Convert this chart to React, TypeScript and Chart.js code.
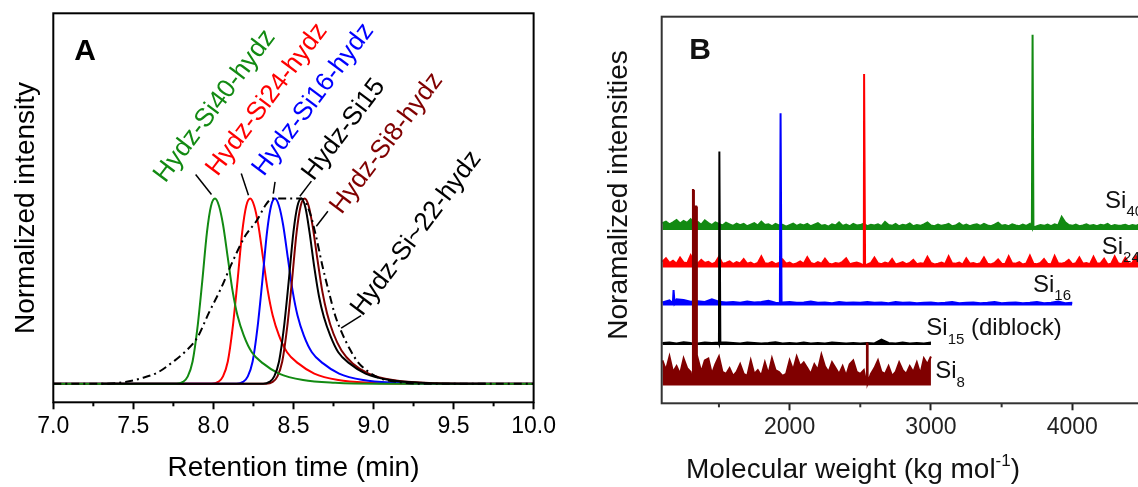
import React, { useEffect, useRef } from "react";
import { Chart, registerables } from "chart.js";
Chart.register(...registerables);

const FONT = "'Liberation Sans', Arial, sans-serif";

// ---------- Panel A : GPC traces ----------
const timeTicks = [7.0, 7.5, 8.0, 8.5, 9.0, 9.5, 10.0];
const timeMinorTicks = [7.25, 7.75, 8.25, 8.75, 9.25, 9.75];

const si40Time = [7.0, 7.77, 7.81, 7.84, 7.87, 7.9, 7.93, 7.96, 7.985, 8.01, 8.035, 8.06, 8.09, 8.12, 8.15, 8.19, 8.24, 8.31, 8.41, 8.56, 8.76, 9.01, 10.0];
const si40Int = [0, 0, 0.01, 0.04, 0.12, 0.3, 0.55, 0.82, 0.96, 1.0, 0.96, 0.86, 0.68, 0.5, 0.37, 0.26, 0.17, 0.11, 0.055, 0.02, 0.005, 0, 0];
const si24Time = [7.0, 7.99, 8.03, 8.06, 8.09, 8.12, 8.15, 8.18, 8.205, 8.23, 8.255, 8.28, 8.31, 8.34, 8.37, 8.41, 8.46, 8.53, 8.63, 8.78, 8.98, 9.23, 10.0];
const si24Int = [0, 0, 0.01, 0.04, 0.12, 0.3, 0.55, 0.82, 0.96, 1.0, 0.96, 0.86, 0.68, 0.5, 0.37, 0.26, 0.17, 0.11, 0.055, 0.02, 0.005, 0, 0];
const si16Time = [7.0, 8.145, 8.185, 8.215, 8.245, 8.275, 8.305, 8.335, 8.36, 8.385, 8.41, 8.435, 8.465, 8.495, 8.525, 8.565, 8.615, 8.685, 8.785, 8.935, 9.135, 9.385, 10.0];
const si16Int = [0, 0, 0.01, 0.04, 0.12, 0.3, 0.55, 0.82, 0.96, 1.0, 0.96, 0.86, 0.68, 0.5, 0.37, 0.26, 0.17, 0.11, 0.055, 0.02, 0.005, 0, 0];
const si15Time = [7.3, 8.31, 8.35, 8.38, 8.41, 8.44, 8.47, 8.5, 8.525, 8.55, 8.575, 8.6, 8.63, 8.66, 8.69, 8.73, 8.78, 8.85, 8.95, 9.1, 9.3, 9.55, 9.7];
const si15Int = [0, 0, 0.01, 0.04, 0.12, 0.3, 0.55, 0.82, 0.96, 1.0, 0.95, 0.82, 0.63, 0.47, 0.36, 0.26, 0.17, 0.11, 0.055, 0.02, 0.005, 0, 0];
const si8Time = [7.0, 8.33, 8.37, 8.4, 8.43, 8.46, 8.49, 8.52, 8.545, 8.57, 8.595, 8.62, 8.65, 8.68, 8.71, 8.75, 8.8, 8.87, 8.97, 9.12, 9.32, 9.57, 10.0];
const si8Int = [0, 0, 0.01, 0.04, 0.12, 0.3, 0.55, 0.82, 0.96, 1.0, 0.96, 0.85, 0.67, 0.5, 0.38, 0.27, 0.18, 0.11, 0.055, 0.02, 0.005, 0, 0];
const si22Time = [7.0, 7.3, 7.45, 7.55, 7.65, 7.75, 7.82, 7.9, 7.97, 8.05, 8.12, 8.2, 8.27, 8.33, 8.37, 8.55, 8.6, 8.64, 8.68, 8.72, 8.76, 8.8, 8.85, 8.9, 8.96, 9.04, 9.15, 9.3, 10.0];
const si22Int = [0, 0, 0.01, 0.03, 0.06, 0.12, 0.17, 0.25, 0.38, 0.52, 0.66, 0.8, 0.88, 0.97, 1.0, 1.0, 0.93, 0.8, 0.64, 0.5, 0.37, 0.28, 0.19, 0.12, 0.07, 0.03, 0.01, 0, 0];

const GREEN = "#128a12";
const RED = "#ff0000";
const BLUE = "#0000ff";
const BLACK = "#000000";
const WINE = "#800000";

// rotated labels of panel A: text, colour, anchor (time, intensity)
const labelsA = [
  { text: "Hydz-Si40-hydz", color: GREEN, t: 7.7, v: 1.08 },
  { text: "Hydz-Si24-hydz", color: RED, t: 8.025, v: 1.115 },
  { text: "Hydz-Si16-hydz", color: BLUE, t: 8.315, v: 1.115 },
  { text: "Hydz-Si15", color: BLACK, t: 8.625, v: 1.09 },
  { text: "Hydz-Si8-hydz", color: WINE, t: 8.8, v: 0.91 },
  { text: "Hydz-Si~22-hydz", color: BLACK, t: 8.93, v: 0.36 },
];
const leadersA = [
  [7.889, 1.13, 7.988, 1.022],
  [8.174, 1.135, 8.219, 1.018],
  [8.385, 1.09, 8.374, 1.027],
  [8.612, 1.094, 8.54, 1.012],
  [8.715, 0.931, 8.643, 0.85],
  [8.798, 0.301, 8.922, 0.368],
];

// ---------- Panel B : mass spectra ----------
const mwTicks = [2000, 3000, 4000];
const mwMinorTicks = [1500, 2500, 3500, 4500];
const noiseStart = 1100;

// noise heights above each trace baseline (step 25 from 1100)
const si40Noise = [
  1.8, 2.2, 1.5, 2.0, 2.6, 1.7, 2.4, 1.9, 2.8, 1.6,
  2.1, 1.4, 2.5, 1.8, 1.3, 2.0, 1.6, 1.2, 1.9, 1.5,
  1.1, 1.7, 1.3, 1.6, 1.0, 1.4, 1.8, 1.2, 2.2, 1.3,
  1.5, 1.0, 1.6, 1.2, 1.4, 0.9, 1.3, 1.7, 1.1, 1.5,
  1.2, 1.6, 1.0, 1.4, 1.8, 1.1, 1.3, 0.9, 1.5, 1.2,
  2.0, 1.1, 1.4, 1.0, 1.6, 1.2, 1.3, 1.7, 1.0, 1.4,
  1.2, 1.5, 1.0, 2.1, 1.3, 1.1, 1.6, 1.0, 1.4, 1.2,
  1.7, 1.0, 1.3, 1.1, 1.5, 2.0, 1.2, 1.0, 1.4, 1.1,
  1.3, 1.6, 1.0, 1.2, 1.8, 1.1, 1.4, 1.0, 1.3, 1.5,
  1.1, 1.6, 1.2, 1.0, 1.4, 1.9, 1.1, 1.3, 1.0, 1.5,
  1.2, 1.0, 1.4, 1.1, 1.6, 1.2, 1.0, 1.3, 1.1, 1.4,
  1.0, 1.5, 1.2, 3.4, 2.0, 1.3, 1.1, 1.4, 1.0, 1.2,
  1.5, 1.1, 1.3, 1.0, 1.4, 1.2, 1.6, 1.0, 1.3, 1.1,
  1.2, 1.4, 1.0, 1.3, 1.1, 1.5, 1.2, 1.0, 1.3, 1.1,
  1.2,
];
const si24Noise = [
  1.5, 2.4, 1.2, 1.8, 1.0, 2.6, 1.3, 1.1, 3.2, 1.4,
  1.0, 2.0, 1.2, 1.5, 0.9, 1.3, 2.8, 1.0, 1.2, 1.6,
  0.9, 1.4, 1.1, 2.2, 1.0, 1.3, 0.8, 1.2, 2.9, 1.1,
  1.0, 1.5, 0.9, 1.2, 2.1, 1.0, 1.3, 0.8, 1.1, 1.6,
  1.0, 2.7, 1.2, 0.9, 1.4, 1.0, 2.3, 1.1, 0.8, 1.2,
  1.0, 1.5, 2.4, 0.9, 1.1, 1.3, 1.0, 2.0, 0.8, 1.2,
  2.6, 1.1, 0.9, 1.3, 1.0, 2.2, 0.8, 1.1, 1.4, 0.9,
  1.2, 2.0, 0.9, 1.1, 1.0, 2.8, 1.2, 0.8, 1.0, 1.3,
  0.9, 2.9, 1.1, 1.0, 1.3, 0.8, 2.4, 1.0, 1.2, 0.9,
  1.1, 2.6, 1.0, 0.8, 1.2, 2.1, 1.0, 0.9, 2.9, 1.1,
  1.0, 1.4, 0.8, 1.1, 3.1, 1.0, 0.9, 1.2, 2.2, 1.0,
  0.8, 3.0, 1.1, 1.0, 1.3, 2.0, 0.9, 1.1, 2.6, 1.0,
  1.2, 0.9, 2.8, 1.0, 1.1, 2.3, 0.8, 1.0, 2.9, 1.1,
  0.9, 2.5, 1.0, 1.2, 3.0, 0.9, 1.1, 2.2, 1.0, 1.3,
  1.0,
];
// step 50 from 1100
const si16Noise = [
  0.8, 1.3, 1.6, 1.4, 1.0, 1.1, 0.9, 1.6, 1.0, 0.8,
  0.9, 0.7, 1.0, 0.8, 0.9, 1.2, 0.7, 0.8, 0.9, 0.7,
  0.8, 1.0, 0.7, 0.8, 0.6, 0.9, 0.7, 0.8, 0.7, 0.9,
  0.7, 0.8, 0.6, 0.9, 0.7, 0.8, 0.6, 0.7, 0.8, 0.6,
  0.7, 0.9, 0.6, 0.7, 0.8, 0.6, 0.7, 0.9, 0.6, 0.7,
  0.8, 0.6, 0.7, 0.9, 0.6, 0.7, 1.0, 0.6, 0.7,
];
const si15Noise = [
  0.5, 0.6, 0.4, 0.7, 0.5, 0.4, 0.6, 0.5, 0.4, 0.6,
  0.5, 0.4, 0.6, 0.5, 0.4, 0.5, 0.7, 0.4, 0.5, 0.4,
  0.6, 0.4, 0.5, 0.4, 0.6, 0.5, 0.4, 0.5, 0.4, 0.5,
  0.4, 1.4, 0.5, 0.4, 0.6, 0.4, 0.5, 0.4, 0.6,
];
// step 25 from 1100
const si8Noise = [
  6.5, 4.0, 7.5, 3.5, 5.0, 3.0, 7.0, 4.5, 3.5, 6.5,
  7.0, 3.5, 6.5, 7.0, 3.0, 5.5, 7.5, 3.5, 3.0, 4.5,
  2.5, 3.5, 5.5, 3.0, 2.5, 6.5, 3.0, 4.0, 2.5, 6.0,
  3.0, 7.0, 4.0, 3.5, 2.5, 3.0, 6.5, 4.0, 7.5, 5.0,
  6.0, 4.5, 3.0, 5.5, 4.0, 8.0, 5.0, 3.5, 6.0, 4.5,
  3.0, 5.0, 2.5, 5.5, 6.5, 3.5, 3.0, 4.0, 5.5, 3.0,
  4.5, 6.5, 3.5, 3.0, 5.0, 2.5, 3.5, 6.0, 4.0, 3.0,
  5.0, 3.5, 6.0, 3.0, 7.0, 5.5, 7.5,
];

// main peaks: [molecular weight, height]
const si40Peaks = [[3720, 50.5]];
const si24Peaks = [[2528, 50.1]];
const si16Peaks = [[1180, 4.0], [1937, 49.7]];
const si15Peaks = [[1504, 50.0]];
const si8Peaks = [[1317, 50.6], [1338, 46.3], [2548, 10.9]];

// vertical offsets of the stacked traces
const traceOffsets = [44.8, 35.1, 25.3, 15.1, 4.6];

const labelsB = [
  { main: "Si", sub: "40", tail: "", mw: 4232, y: 52.3 },
  { main: "Si", sub: "24", tail: "", mw: 4208, y: 40.4 },
  { main: "Si", sub: "16", tail: "", mw: 3722, y: 30.6 },
  { main: "Si", sub: "15", tail: " (diblock)", mw: 2967, y: 19.3 },
  { main: "Si", sub: "8", tail: "", mw: 3030, y: 8.2 },
];

function series(xs: number[], ys: number[]) {
  return xs.map((x, i) => ({ x, y: ys[i] }));
}

function spectrum(step: number, noise: number[], offset: number, peaks: number[][]) {
  const pts = noise.map((h, i) => ({ x: noiseStart + i * step, y: offset + h }));
  for (const [px, ph] of peaks) {
    pts.push({ x: px - 6, y: offset + 0.6 }, { x: px - 1, y: offset + ph }, { x: px + 1, y: offset + ph }, { x: px + 6, y: offset + 0.6 });
  }
  pts.sort((a, b) => a.x - b.x);
  return pts;
}

function drawMinorTicks(ctx: CanvasRenderingContext2D, chart: any, values: number[], color: string) {
  const sx = chart.scales.x;
  const bottom = chart.chartArea.bottom;
  ctx.save();
  ctx.strokeStyle = color;
  ctx.lineWidth = 2;
  values.forEach((v) => {
    const px = sx.getPixelForValue(v);
    if (px < chart.chartArea.left || px > chart.chartArea.right) return;
    ctx.beginPath();
    ctx.moveTo(px, bottom);
    ctx.lineTo(px, bottom + 4);
    ctx.stroke();
  });
  ctx.restore();
}

const pluginA = {
  id: "panelA",
  afterDatasetsDraw(chart: any) {
    const { ctx, scales } = chart;
    const sx = scales.x;
    const sy = scales.y;
    ctx.save();
    ctx.strokeStyle = "#000";
    ctx.lineWidth = 1.5;
    leadersA.forEach(([t1, v1, t2, v2]) => {
      ctx.beginPath();
      ctx.moveTo(sx.getPixelForValue(t1), sy.getPixelForValue(v1));
      ctx.lineTo(sx.getPixelForValue(t2), sy.getPixelForValue(v2));
      ctx.stroke();
    });
    ctx.font = `26px ${FONT}`;
    ctx.textAlign = "left";
    ctx.textBaseline = "alphabetic";
    labelsA.forEach((l) => {
      ctx.save();
      ctx.translate(sx.getPixelForValue(l.t), sy.getPixelForValue(l.v));
      ctx.rotate((-53 * Math.PI) / 180);
      ctx.fillStyle = l.color;
      ctx.fillText(l.text, 0, 0);
      ctx.restore();
    });
    ctx.restore();
  },
  afterDraw(chart: any) {
    const { ctx, chartArea: ca } = chart;
    ctx.save();
    ctx.strokeStyle = "#000";
    ctx.lineWidth = 2;
    ctx.strokeRect(ca.left, ca.top, ca.right - ca.left, ca.bottom - ca.top);
    drawMinorTicks(ctx, chart, timeMinorTicks, "#000");
    ctx.fillStyle = "#000";
    ctx.textAlign = "center";
    ctx.textBaseline = "middle";
    ctx.font = `28px ${FONT}`;
    ctx.fillText("Retention time (min)", (ca.left + ca.right) / 2, 468);
    ctx.save();
    ctx.translate(26, 208);
    ctx.rotate(-Math.PI / 2);
    ctx.fillText("Normalized intensity", 0, 0);
    ctx.restore();
    ctx.font = `bold 30px ${FONT}`;
    ctx.fillText("A", 85, 52);
    ctx.restore();
  },
};

const B_LEFT = 570;

const pluginB = {
  id: "panelB",
  afterDraw(chart: any) {
    const { ctx, chartArea: ca, scales } = chart;
    const sx = scales.x;
    const sy = scales.y;
    ctx.save();
    ctx.strokeStyle = "#333";
    ctx.lineWidth = 2;
    ctx.strokeRect(ca.left, ca.top, ca.right - ca.left, ca.bottom - ca.top);
    drawMinorTicks(ctx, chart, mwMinorTicks, "#333");
    // trace labels
    ctx.fillStyle = "#111";
    ctx.textAlign = "left";
    ctx.textBaseline = "middle";
    labelsB.forEach((l) => {
      const px = sx.getPixelForValue(l.mw);
      const py = sy.getPixelForValue(l.y);
      ctx.font = `24px ${FONT}`;
      ctx.fillText(l.main, px, py);
      const w = ctx.measureText(l.main).width;
      ctx.font = `15px ${FONT}`;
      ctx.fillText(l.sub, px + w, py + 11);
      const ws = ctx.measureText(l.sub).width;
      if (l.tail) {
        ctx.font = `24px ${FONT}`;
        ctx.fillText(l.tail, px + w + ws, py);
      }
    });
    // axis titles
    ctx.fillStyle = "#111";
    ctx.font = `28px ${FONT}`;
    const t1 = "Molecular weight (kg mol";
    const sup = "-1";
    const t2 = ")";
    const w1 = ctx.measureText(t1).width;
    const w2 = ctx.measureText(t2).width;
    ctx.font = `17px ${FONT}`;
    const wsup = ctx.measureText(sup).width;
    const total = w1 + wsup + w2;
    const x0 = 853 - B_LEFT - total / 2;
    ctx.font = `28px ${FONT}`;
    ctx.fillText(t1, x0, 470);
    ctx.font = `17px ${FONT}`;
    ctx.fillText(sup, x0 + w1, 461);
    ctx.font = `28px ${FONT}`;
    ctx.fillText(t2, x0 + w1 + wsup, 470);
    ctx.save();
    ctx.textAlign = "center";
    ctx.translate(619 - B_LEFT, 195);
    ctx.rotate(-Math.PI / 2);
    ctx.fillText("Noramalized intensities", 0, 0);
    ctx.restore();
    ctx.textAlign = "center";
    ctx.font = `bold 30px ${FONT}`;
    ctx.fillText("B", 700 - B_LEFT, 51);
    ctx.restore();
  },
};

function xAxis(min: number, max: number, ticks: number[], bottomSpace: number, color: string, fmt: (v: number) => string) {
  return {
    type: "linear" as const,
    min,
    max,
    afterBuildTicks: (s: any) => {
      s.ticks = ticks.map((v) => ({ value: v }));
    },
    afterFit: (s: any) => {
      s.height = bottomSpace;
    },
    grid: { display: true, drawOnChartArea: false, drawTicks: true, tickLength: 7, tickWidth: 2, tickColor: color },
    border: { display: false },
    ticks: {
      font: { size: 23, family: FONT },
      color,
      padding: 4,
      maxRotation: 0,
      autoSkip: false,
      callback: (v: any) => fmt(Number(v)),
    },
  };
}

export default function App() {
  const refA = useRef<HTMLCanvasElement>(null);
  const refB = useRef<HTMLCanvasElement>(null);

  useEffect(() => {
    const lineA = (label: string, data: any[], color: string, dash: number[] = []) => ({
      label,
      data,
      borderColor: color,
      backgroundColor: color,
      borderWidth: 2,
      borderDash: dash,
      pointRadius: 0,
      cubicInterpolationMode: "monotone" as const,
      fill: false,
    });
    const chartA = new Chart(refA.current as HTMLCanvasElement, {
      type: "line",
      data: {
        datasets: [
          lineA("Hydz-Si15", series(si15Time, si15Int), BLACK),
          lineA("Hydz-Si~22-hydz", series(si22Time, si22Int), BLACK, [8, 4, 2, 4]),
          lineA("Hydz-Si40-hydz", series(si40Time, si40Int), GREEN),
          lineA("Hydz-Si8-hydz", series(si8Time, si8Int), WINE),
          lineA("Hydz-Si16-hydz", series(si16Time, si16Int), BLUE),
          lineA("Hydz-Si24-hydz", series(si24Time, si24Int), RED),
        ],
      },
      options: {
        animation: false,
        responsive: false,
        devicePixelRatio: 1,
        layout: { padding: { left: 53.3, top: 13.3, right: 22.7, bottom: 0 } },
        plugins: { legend: { display: false }, tooltip: { enabled: false }, title: { display: false } },
        events: [],
        scales: {
          x: xAxis(7, 10, timeTicks, 487 - 402.3, "#000", (v) => v.toFixed(1)) as any,
          y: { type: "linear", min: -0.1, max: 2.0, display: false },
        },
      },
      plugins: [pluginA],
    });

    const lineB = (label: string, data: any[], color: string, offset: number) => ({
      label,
      data,
      borderColor: color,
      backgroundColor: color,
      borderWidth: 2,
      pointRadius: 0,
      tension: 0,
      fill: { value: offset },
    });
    const chartB = new Chart(refB.current as HTMLCanvasElement, {
      type: "line",
      data: {
        datasets: [
          lineB("Si8", spectrum(25, si8Noise, traceOffsets[4], si8Peaks), WINE, traceOffsets[4]),
          lineB("Si15 (diblock)", spectrum(50, si15Noise, traceOffsets[3], si15Peaks), BLACK, traceOffsets[3]),
          lineB("Si16", spectrum(50, si16Noise, traceOffsets[2], si16Peaks), BLUE, traceOffsets[2]),
          lineB("Si24", spectrum(25, si24Noise, traceOffsets[1], si24Peaks), RED, traceOffsets[1]),
          lineB("Si40", spectrum(25, si40Noise, traceOffsets[0], si40Peaks), GREEN, traceOffsets[0]),
        ],
      },
      options: {
        animation: false,
        responsive: false,
        devicePixelRatio: 1,
        layout: { padding: { left: 91.7, top: 16.7, right: 12.9, bottom: 0 } },
        plugins: { legend: { display: false }, tooltip: { enabled: false }, title: { display: false } },
        events: [],
        scales: {
          x: xAxis(1095, 4600, mwTicks, 487 - 403.3, "#222", (v) => String(v)) as any,
          y: { type: "linear", min: 0, max: 100, display: false },
        },
      },
      plugins: [pluginB],
    });

    return () => {
      chartA.destroy();
      chartB.destroy();
    };
  }, []);

  return (
    <div
      style={{
        position: "fixed",
        left: 0,
        top: 0,
        width: 1138,
        height: 487,
        overflow: "hidden",
        background: "#fff",
      }}
    >
      <canvas ref={refA} width={560} height={487} style={{ position: "absolute", left: 0, top: 0, width: 560, height: 487 }} />
      <canvas ref={refB} width={600} height={487} style={{ position: "absolute", left: B_LEFT, top: 0, width: 600, height: 487 }} />
    </div>
  );
}
